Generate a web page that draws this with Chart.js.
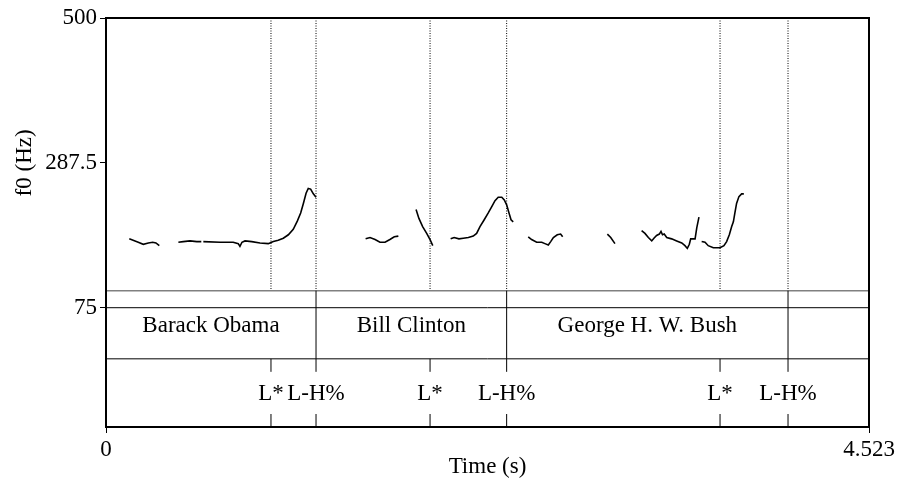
<!DOCTYPE html>
<html>
<head>
<meta charset="utf-8">
<script src="https://cdn.jsdelivr.net/npm/chart.js@4/dist/chart.umd.min.js"></script>
<style>
  html, body { margin: 0; padding: 0; background: #fff; }
  canvas { display: block; }
</style>
</head>
<body>
<canvas id="pitch" width="900" height="495"></canvas>
<script>
// f0 track (s, Hz); null marks an unvoiced gap
const f0Times = [
    0.138, 0.191, 0.221, 0.251, 0.277, 0.296, 0.316, 0.36,
    0.429, 0.458, 0.498, 0.538, 0.565, 0.571,
    0.577, 0.676, 0.754, 0.784, 0.794, 0.806, 0.824, 0.864, 0.913, 0.962,
    0.992, 1.021, 1.051, 1.081, 1.110, 1.134, 1.154, 1.170, 1.186, 1.199,
    1.213, 1.229, 1.245, 1.40,
    1.539, 1.565, 1.595, 1.624, 1.654, 1.683, 1.709, 1.733, 1.78,
    1.838, 1.855, 1.877, 1.901, 1.921, 1.937, 1.99,
    2.043, 2.064, 2.092, 2.118, 2.148, 2.177, 2.197, 2.217, 2.242, 2.266,
    2.286, 2.306, 2.325, 2.346, 2.361, 2.375, 2.389, 2.401, 2.414, 2.46,
    2.503, 2.523, 2.553, 2.583, 2.602, 2.622, 2.636, 2.652, 2.675, 2.695,
    2.707, 2.85,
    2.972, 2.992, 3.017, 3.10,
    3.175, 3.195, 3.215, 3.235, 3.248, 3.264, 3.280, 3.290, 3.299, 3.309,
    3.324, 3.353, 3.383, 3.413, 3.432, 3.446, 3.458, 3.466, 3.492, 3.502,
    3.515, 3.523,
    3.531, 3.551, 3.570, 3.600, 3.640, 3.663, 3.679, 3.695, 3.709, 3.719,
    3.728, 3.738, 3.752, 3.768, 3.781
];
const f0Values = [
    176, 171, 168, 170, 171, 170, 166, null,
    171, 172, 173, 172, 172, null,
    172, 171, 171, 169, 165, 171, 173, 172, 170, 169,
    172, 174, 177, 182, 190, 202, 214, 228, 243, 250,
    249, 242, 237, null,
    176, 178, 175, 171, 171, 175, 179, 180, null,
    219, 206, 194, 184, 175, 166, null,
    176, 178, 176, 177, 178, 180, 184, 194, 204, 214,
    223, 232, 237, 237, 233, 226, 214, 204, 201, null,
    179, 175, 171, 171, 169, 167, 172, 178, 182, 183,
    179, null,
    183, 178, 169, null,
    188, 184, 178, 173, 177, 181, 183, 187, 182, 183,
    178, 176, 173, 170, 166, 162, 168, 176, 176, 192,
    208, null,
    172, 171, 166, 163, 163, 166, 172, 182, 194, 201,
    214, 228, 238, 242, 242
];

// word tier: interval edges (s) and labels
const wordEdges = [0, 1.245, 2.375, 4.043, 4.523];
const wordLabels = ["Barack Obama", "Bill Clinton", "George H. W. Bush", ""];

// tone tier: point times (s) and labels
const toneTimes = [0.978, 1.245, 1.921, 2.375, 3.640, 4.043];
const toneLabels = ["L*", "L-H%", "L*", "L-H%", "L*", "L-H%"];

const yTicks = [75, 287.5, 500];
const xTicks = [0, 4.523];

// vertical layout of the tiers, in axis units
const PITCH_FLOOR = 100;
const WORD_TOP = 75;
const TONE_TOP = 0;
const Y_MIN = -100;

const FONT = '"Liberation Serif", "Times New Roman", serif';
Chart.defaults.font.family = FONT;
Chart.defaults.font.size = 23;
Chart.defaults.color = "#000";

const points = f0Times.map((t, i) => ({ x: t, y: f0Values[i] }));

function seg(ctx, x1, y1, x2, y2) {
    ctx.beginPath();
    ctx.moveTo(x1, y1);
    ctx.lineTo(x2, y2);
    ctx.stroke();
}

const tiers = {
    id: "tiers",
    beforeDatasetsDraw(chart) {
        const { ctx, chartArea: a, scales } = chart;
        const px = (t) => scales.x.getPixelForValue(t);
        const py = (v) => scales.y.getPixelForValue(v);
        ctx.save();

        // dotted guides above the tiers
        ctx.strokeStyle = "#000";
        ctx.lineWidth = 1;
        ctx.setLineDash([1, 1.5]);
        toneTimes.forEach((t) => seg(ctx, px(t), a.top, px(t), py(PITCH_FLOOR)));
        ctx.setLineDash([]);

        // tier frame
        ctx.strokeStyle = "#808080";
        ctx.lineWidth = 1.5;
        seg(ctx, a.left, py(PITCH_FLOOR), a.right, py(PITCH_FLOOR));
        ctx.strokeStyle = "#000";
        ctx.lineWidth = 1;
        seg(ctx, a.left, py(WORD_TOP), a.right, py(WORD_TOP));
        seg(ctx, a.left, py(TONE_TOP), a.right, py(TONE_TOP));

        // word boundaries
        wordEdges.slice(1, -1).forEach((t) =>
            seg(ctx, px(t), py(PITCH_FLOOR), px(t), py(TONE_TOP)));

        // tone ticks
        toneTimes.forEach((t) => {
            seg(ctx, px(t), py(TONE_TOP), px(t), py(TONE_TOP) + 13);
            seg(ctx, px(t), py(Y_MIN) - 13, px(t), py(Y_MIN));
        });

        ctx.font = "23px " + FONT;
        ctx.fillStyle = "#000";
        ctx.textAlign = "center";
        ctx.textBaseline = "alphabetic";
        wordLabels.forEach((w, i) => {
            const cx = (px(wordEdges[i]) + px(wordEdges[i + 1])) / 2;
            ctx.fillText(w, cx, py(WORD_TOP) + 24);
        });
        toneLabels.forEach((l, i) => {
            ctx.fillText(l, px(toneTimes[i]), py(TONE_TOP) + 41);
        });
        ctx.restore();
    },
    afterDraw(chart) {
        const { ctx, chartArea: a, scales } = chart;
        ctx.save();
        ctx.strokeStyle = "#000";
        ctx.lineWidth = 2;
        ctx.strokeRect(a.left, a.top, a.right - a.left, a.bottom - a.top);

        ctx.font = "23px " + FONT;
        ctx.fillStyle = "#000";
        ctx.textAlign = "center";
        ctx.textBaseline = "middle";
        ctx.fillText("Time (s)", (a.left + a.right) / 2, 467);

        const midY = (scales.y.getPixelForValue(500) + scales.y.getPixelForValue(75)) / 2;
        ctx.translate(25, midY);
        ctx.rotate(-Math.PI / 2);
        ctx.fillText("f0 (Hz)", 0, 0);
        ctx.restore();
    }
};

new Chart(document.getElementById("pitch"), {
    type: "line",
    data: {
        datasets: [{
            data: points,
            borderColor: "#000",
            borderWidth: 1.6,
            pointRadius: 0,
            tension: 0,
            spanGaps: false
        }]
    },
    options: {
        responsive: false,
        animation: false,
        devicePixelRatio: 1,
        layout: { padding: { top: 18, right: 31, left: 0, bottom: 0 } },
        plugins: { legend: { display: false }, tooltip: { enabled: false } },
        scales: {
            x: {
                type: "linear",
                min: 0,
                max: 4.523,
                afterBuildTicks: (s) => { s.ticks = xTicks.map((v) => ({ value: v })); },
                afterFit: (s) => { s.height = 68; },
                ticks: { autoSkip: false, maxRotation: 0, padding: 3, callback: (v) => String(v) },
                grid: { drawOnChartArea: false, tickLength: 6, color: "#000" },
                border: { color: "#000", width: 2 }
            },
            y: {
                type: "linear",
                min: Y_MIN,
                max: 500,
                afterBuildTicks: (s) => { s.ticks = yTicks.map((v) => ({ value: v })); },
                afterFit: (s) => { s.width = 106; },
                ticks: { autoSkip: false, padding: 3, callback: (v) => String(v) },
                grid: { drawOnChartArea: false, tickLength: 6, color: "#000" },
                border: { color: "#000", width: 2 }
            }
        }
    },
    plugins: [tiers]
});
</script>
</body>
</html>
